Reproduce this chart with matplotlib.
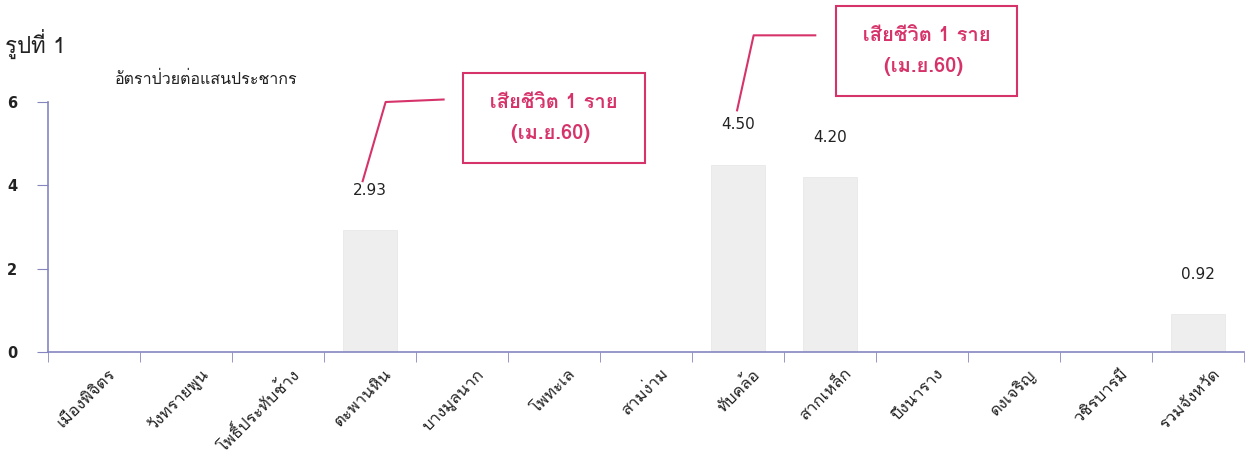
import matplotlib
matplotlib.use("Agg")
import matplotlib.pyplot as plt
from matplotlib import font_manager
from matplotlib.ft2font import FT2Font
import matplotlib.transforms as mtransforms

districts = ["เมืองพิจิตร", "วังทรายพูน", "โพธิ์ประทับช้าง", "ตะพานหิน", "บางมูลนาก",
             "โพทะเล", "สามง่าม", "ทับคล้อ", "สากเหล็ก", "บึงนาราง", "ดงเจริญ",
             "วชิรบารมี", "รวมจังหวัด"]
rates = [0, 0, 0, 2.93, 0, 0, 0, 4.50, 4.20, 0, 0, 0, 0.92]
yticks = [0, 2, 4, 6]
note_text = "เสียชีวิต 1 ราย\n(เม.ย.60)"


def find_thai_font():
    for f in font_manager.fontManager.ttflist:
        try:
            ft = FT2Font(f.fname)
            if ft.get_char_index(ord("ก")) and ft.get_char_index(ord("1")):
                return f.name
        except Exception:
            continue
    return "DejaVu Sans"


thai = find_thai_font()
plt.rcParams["font.family"] = [thai, "DejaVu Sans"]

axis_col = "#8585c0"
red = "#d6336b"

fig = plt.figure(figsize=(12.48, 4.63), dpi=100)
ax = fig.add_axes([48 / 1248, 111 / 463, 1196 / 1248, 250 / 463])

x = list(range(len(districts)))
ax.bar(x, rates, width=0.59, color="#eeeeee", edgecolor="#e6e6e6", linewidth=0.5)

for xi, v in zip(x, rates):
    if v > 0:
        ax.text(xi, v + 0.95, f"{v:.2f}", ha="center", va="center", fontsize=11,
                color="#222222", family=["DejaVu Sans"])

ax.set_xlim(-0.5, len(districts) - 0.5)
ax.set_ylim(0, 6)
ax.set_yticks(yticks)
ax.set_yticklabels([str(t) for t in yticks], fontsize=10.5, family=["DejaVu Sans"],
                   color="#222222", fontweight="bold")
ax.set_xticks(x)
ax.set_xticklabels(districts, rotation=45, ha="right", rotation_mode="anchor",
                   fontsize=12, color="#222222")
ax.set_xticks([i - 0.5 for i in range(len(districts) + 1)], minor=True)
ax.tick_params(axis="x", which="major", length=0, pad=10)
ax.tick_params(axis="x", which="minor", length=7, color=axis_col, direction="out")
ax.tick_params(axis="y", length=8, color=axis_col, direction="out", pad=14)
offset = mtransforms.ScaledTranslation(0.14, 0, fig.dpi_scale_trans)
for lbl in ax.get_xticklabels():
    lbl.set_transform(lbl.get_transform() + offset)

for s in ["top", "right"]:
    ax.spines[s].set_visible(False)
for s in ["left", "bottom"]:
    ax.spines[s].set_color(axis_col)
    ax.spines[s].set_linewidth(1.2)

ax.text(0.056, 1.09, "อัตราป่วยต่อแสนประชากร", transform=ax.transAxes,
        fontsize=11.5, color="#222222", va="center")
fig.text(0.004, 0.905, "รูปที่ 1", fontsize=16, color="#222222", va="center")

# callouts
box = dict(boxstyle="square,pad=1.0", facecolor="white", edgecolor=red, linewidth=1.5)
ax.plot([2.92, 3.17, 3.8], [4.1, 6.0, 6.06], color=red, lw=1.5, clip_on=False)
ax.text(5.0, 5.62, " " + note_text.replace("\n", " \n") + " ", ha="center",
        va="center", fontsize=14.5, color=red, fontweight="bold", linespacing=1.8,
        bbox=box, clip_on=False)
ax.plot([6.99, 7.17, 7.84], [5.8, 7.6, 7.6], color=red, lw=1.5, clip_on=False)
ax.text(9.05, 7.22, " " + note_text.replace("\n", " \n") + " ", ha="center",
        va="center", fontsize=14.5, color=red, fontweight="bold", linespacing=1.8,
        bbox=box, clip_on=False)

fig.savefig("out.png", dpi=100)
